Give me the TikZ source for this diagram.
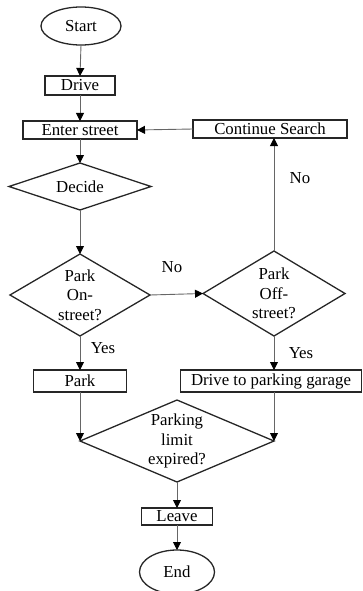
\documentclass[tikz,border=0pt]{standalone}
\usepackage{fontspec}
\setmainfont{Liberation Serif}
\usetikzlibrary{shapes.geometric,arrows.meta}
\begin{document}
\begin{tikzpicture}[x=1pt,y=-1pt,
  every node/.style={font=\fontsize{16.8}{19.5}\selectfont},
  boxnode/.style={draw=black!85,line width=1.3pt,rectangle,inner sep=0pt,outer sep=0pt},
  ovalnode/.style={draw=black!85,line width=1.3pt,ellipse,inner sep=0pt,outer sep=0pt},
  dianode/.style={draw=black!85,line width=1.3pt,diamond,inner sep=0pt,outer sep=0pt},
  conn/.style={draw=black!60,line width=0.9pt,-{Triangle[length=8pt,width=8pt,fill=black,color=black]}},
  lbl/.style={inner sep=0pt}]
\useasboundingbox (0,0) rectangle (362,591);
\node[ovalnode,minimum width=80pt,minimum height=38pt] (start) at (81,26) {Start};
\node[boxnode,minimum width=70pt,minimum height=19pt] (drive) at (80,85.5) {Drive};
\node[boxnode,minimum width=114pt,minimum height=18pt] (enter) at (80,130) {Enter street};
\node[boxnode,minimum width=154pt,minimum height=18pt] (cont) at (270,129) {Continue Search};
\node[dianode,minimum width=142pt,minimum height=47pt,label={[lbl]center:Decide}] (decide) at (80,186.5) {};
\node[dianode,minimum width=140pt,minimum height=82pt,label={[lbl,align=center]center:{Park\\On-\\street?}}] (on) at (80,295) {};
\node[dianode,minimum width=142pt,minimum height=85pt,label={[lbl,align=center]center:{Park\\Off-\\street?}}] (off) at (274,293.5) {};
\node[boxnode,minimum width=93pt,minimum height=22pt] (park) at (80,381) {Park};
\node[boxnode,minimum width=181pt,minimum height=22pt] (garage) at (271,381) {Drive to parking garage};
\node[dianode,minimum width=194pt,minimum height=82pt,label={[lbl,align=center]center:{Parking\\limit\\expired?}}] (limit) at (177,441) {};
\node[boxnode,minimum width=71pt,minimum height=17pt] (leave) at (177,516.5) {Leave};
\node[ovalnode,minimum width=75pt,minimum height=44pt] (end) at (177,572) {End};

\draw[conn] (start.south) -- (drive.north);
\draw[conn] (drive.south) -- (enter.north);
\draw[conn] (cont.west) -- (enter.east);
\draw[conn] (enter.south) -- (decide.north);
\draw[conn] (decide.south) -- (on.north);
\draw[conn] (on.east) -- (off.west);
\draw[conn] (off.north) -- (off.north |- cont.south);
\draw[conn] (on.south) -- (park.north);
\draw[conn] (off.south) -- (off.south |- garage.north);
\draw[conn] (park.south) -- (limit.west);
\draw[conn] (limit.east |- garage.south) -- (limit.east);
\draw[conn] (limit.south) -- (leave.north);
\draw[conn] (leave.south) -- (end.north);

\node[lbl] (no1) at (172,267) {No};
\node[lbl] (no2) at (300,178) {No};
\node[lbl] (yes1) at (103,348) {Yes};
\node[lbl] (yes2) at (301,353) {Yes};
\end{tikzpicture}
\end{document}
